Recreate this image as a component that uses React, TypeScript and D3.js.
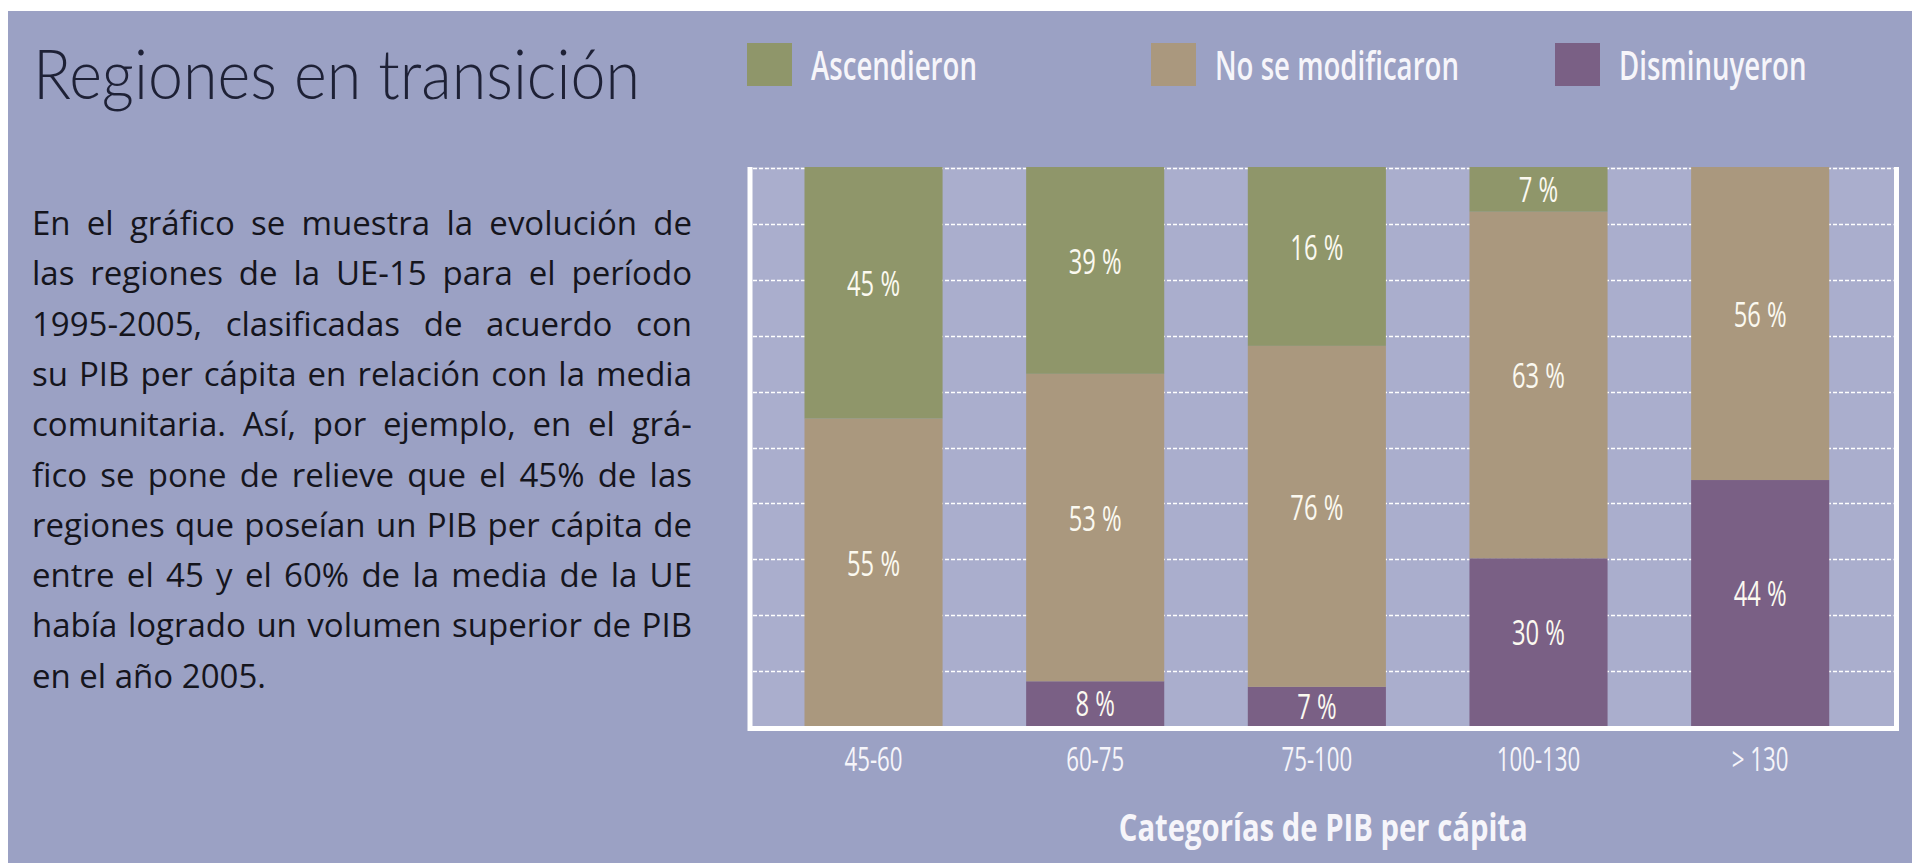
import React, { useEffect, useRef } from "react";
import * as d3 from "d3";

// ---------------- data ----------------
const categories = ["45-60", "60-75", "75-100", "100-130", "> 130"];
const ascendieron = [45, 37, 32, 8, 0];
const noModificaron = [55, 55, 61, 62, 56];
const disminuyeron = [0, 8, 7, 30, 44];
const ascendieronLabels = ["45 %", "39 %", "16 %", "7 %", ""];
const noModificaronLabels = ["55 %", "53 %", "76 %", "63 %", "56 %"];
const disminuyeronLabels = ["", "8 %", "7 %", "30 %", "44 %"];
const gridTicks = [10, 20, 30, 40, 50, 60, 70, 80, 90, 100];
const seriesKeys = ["Disminuyeron", "No se modificaron", "Ascendieron"]; // bottom -> top
const legendOrder = ["Ascendieron", "No se modificaron", "Disminuyeron"];
const titleText = "Regiones en transición";
const axisTitle = "Categorías de PIB per cápita";
const paragraphLines = [
  "En el gráfico se muestra la evolución de",
  "las regiones de la UE-15 para el período",
  "1995-2005, clasificadas de acuerdo con",
  "su PIB per cápita en relación con la media",
  "comunitaria. Así, por ejemplo, en el grá-",
  "fico se pone de relieve que el 45% de las",
  "regiones que poseían un PIB per cápita de",
  "entre el 45 y el 60% de la media de la UE",
  "había logrado un volumen superior de PIB",
  "en el año 2005.",
];

// ---------------- styles / layout ----------------
const W = 1912;
const H = 863;
const BG = "#9ba1c4";
const PLOT_BG = "#aaaecd";
const COLORS: Record<string, string> = {
  Ascendieron: "#8f966a",
  "No se modificaron": "#aa987e",
  Disminuyeron: "#7a6085",
};
const SANS = "'Open Sans', 'Noto Sans', 'DejaVu Sans', sans-serif";
const LIGHT = "Lato, 'Open Sans', sans-serif";
const WHITE_TXT = "#fbf9f0";

export default function App() {
  const ref = useRef<SVGSVGElement>(null);

  useEffect(() => {
    const draw = () => {
      if (!ref.current) return;
      const svg = d3.select(ref.current);
      svg.selectAll("*").remove();

      const measure = (parent: any, str: string, size?: number, weight?: number | string, family?: string) => {
        const t = parent.append("text").text(str);
        if (size) t.attr("font-size", size);
        if (weight) t.attr("font-weight", weight);
        if (family) t.attr("font-family", family);
        const w = (t.node() as SVGTextElement).getComputedTextLength();
        t.remove();
        return w;
      };

      svg.append("rect").attr("width", W).attr("height", H).attr("fill", "#ffffff");
      svg.append("rect").attr("x", 8).attr("y", 11).attr("width", W - 8).attr("height", H - 11).attr("fill", BG);

      // title
      svg
        .append("text")
        .attr("x", 33)
        .attr("y", 99)
        .attr("font-family", LIGHT)
        .attr("font-weight", 300)
        .attr("font-size", 68)
        .attr("fill", "#1e2136")
        .attr("textLength", 607)
        .attr("lengthAdjust", "spacingAndGlyphs")
        .text(titleText);

      // paragraph (justified)
      const pg = svg.append("g").attr("font-family", SANS).attr("font-size", 33).attr("fill", "#15151d");
      const L = 32;
      const R = 692;
      const WW = R - L;
      const baseY = 235;
      const lineH = 50.3;
      const words = paragraphLines.map((l) => l.split(" "));
      const widths = words.map((ws) => ws.map((w) => measure(pg, w)));
      const spaceW = Math.max(4, measure(pg, "a a") - measure(pg, "aa"));
      let k = 1;
      words.forEach((ws, i) => {
        if (i === paragraphLines.length - 1) return;
        const sum = d3.sum(widths[i]);
        const need = (WW - (ws.length - 1) * spaceW * 0.7) / sum;
        if (need < k) k = need;
      });
      words.forEach((ws, i) => {
        const last = i === paragraphLines.length - 1;
        const sum = d3.sum(widths[i]) * k;
        const gap = last ? spaceW * k : (WW - sum) / (ws.length - 1);
        let xx = L;
        ws.forEach((w, j) => {
          pg.append("text")
            .attr("transform", `translate(${xx},${baseY + i * lineH}) scale(${k},1)`)
            .text(w);
          xx += widths[i][j] * k + gap;
        });
      });

      // scales
      const x = d3
        .scaleBand<string>()
        .domain(categories)
        .range([762.7, 1871])
        .paddingInner(0.377)
        .paddingOuter(0.1885);
      const y = d3.scaleLinear().domain([0, 100]).range([726, 167]);
      const plotL = 750;
      const plotR = 1896.5;

      // plot background
      svg
        .append("rect")
        .attr("x", plotL)
        .attr("y", y(100))
        .attr("width", plotR - plotL)
        .attr("height", y(0) - y(100))
        .attr("fill", PLOT_BG);

      // gridlines
      svg
        .append("g")
        .selectAll("line")
        .data(gridTicks)
        .join("line")
        .attr("x1", plotL + 3)
        .attr("x2", plotR - 3)
        .attr("y1", (d) => Math.round(y(d)) + 1.5)
        .attr("y2", (d) => Math.round(y(d)) + 1.5)
        .attr("stroke", "#ffffff")
        .attr("stroke-width", 1.5)
        .attr("stroke-dasharray", "4 2");

      // stacked bars
      const rows = categories.map((c, i) => ({
        category: c,
        Ascendieron: ascendieron[i],
        "No se modificaron": noModificaron[i],
        Disminuyeron: disminuyeron[i],
      }));
      const labelsOf: Record<string, string[]> = {
        Ascendieron: ascendieronLabels,
        "No se modificaron": noModificaronLabels,
        Disminuyeron: disminuyeronLabels,
      };
      const stacked = d3.stack<any>().keys(seriesKeys)(rows);
      const barsG = svg.append("g");
      stacked.forEach((s) => {
        barsG
          .append("g")
          .attr("fill", COLORS[s.key])
          .selectAll("rect")
          .data(s)
          .join("rect")
          .attr("x", (d: any) => x(d.data.category)!)
          .attr("width", x.bandwidth())
          .attr("y", (d: any) => y(d[1]))
          .attr("height", (d: any) => y(d[0]) - y(d[1]));
      });

      // bar labels
      const kBar = 53 / measure(svg, "45 %", 34, 400, SANS);
      const lblG = svg.append("g").attr("font-family", SANS).attr("font-size", 34).attr("fill", WHITE_TXT);
      stacked.forEach((s) => {
        s.forEach((d: any, i: number) => {
          const txt = labelsOf[s.key][i];
          if (!txt) return;
          const y0 = y(d[0]);
          const y1 = y(d[1]);
          const h = y0 - y1;
          const cy = (y0 + y1) / 2 + (h > 80 ? -9 : 0);
          const cx = x(d.data.category)! + x.bandwidth() / 2;
          lblG
            .append("text")
            .attr("transform", `translate(${cx},${cy}) scale(${kBar},1)`)
            .attr("text-anchor", "middle")
            .attr("dy", "0.36em")
            .text(txt);
        });
      });

      // frame (left, bottom, right)
      svg
        .append("path")
        .attr("d", `M${plotL},${y(100)}V${y(0) + 2.5}H${plotR}V${y(100)}`)
        .attr("fill", "none")
        .attr("stroke", "#ffffff")
        .attr("stroke-width", 5);

      // x tick labels
      const kTick = 83.5 / measure(svg, "100-130", 32, 400, SANS);
      svg
        .append("g")
        .attr("font-family", SANS)
        .attr("font-size", 32)
        .attr("fill", "#f6f5fa")
        .selectAll("text")
        .data(categories)
        .join("text")
        .attr("transform", (d) => `translate(${x(d)! + x.bandwidth() / 2},771) scale(${kTick},1)`)
        .attr("text-anchor", "middle")
        .text((d) => d);

      // axis title
      svg
        .append("text")
        .attr("x", (plotL + plotR) / 2)
        .attr("y", 841)
        .attr("text-anchor", "middle")
        .attr("font-family", SANS)
        .attr("font-weight", 700)
        .attr("font-size", 38)
        .attr("fill", "#f6f5fa")
        .attr("textLength", 409)
        .attr("lengthAdjust", "spacingAndGlyphs")
        .text(axisTitle);

      // legend
      const kLeg = 244 / measure(svg, "No se modificaron", 40, 600, SANS);
      const legX = d3.scalePoint<string>().domain(legendOrder).range([747, 1555]);
      const lg = svg.append("g");
      legendOrder.forEach((name) => {
        const lx = legX(name)!;
        lg.append("rect").attr("x", lx).attr("y", 43).attr("width", 45).attr("height", 43).attr("fill", COLORS[name]);
        lg.append("text")
          .attr("transform", `translate(${lx + 64},80) scale(${kLeg},1)`)
          .attr("font-family", SANS)
          .attr("font-weight", 600)
          .attr("font-size", 40)
          .attr("fill", "#f6f5fa")
          .text(name);
      });
    };

    draw();
    if ((document as any).fonts && (document as any).fonts.ready) {
      (document as any).fonts.ready.then(draw);
    }
  }, []);

  return (
    <svg
      ref={ref}
      width={W}
      height={H}
      style={{ position: "absolute", left: 0, top: 0, display: "block" }}
    />
  );
}
